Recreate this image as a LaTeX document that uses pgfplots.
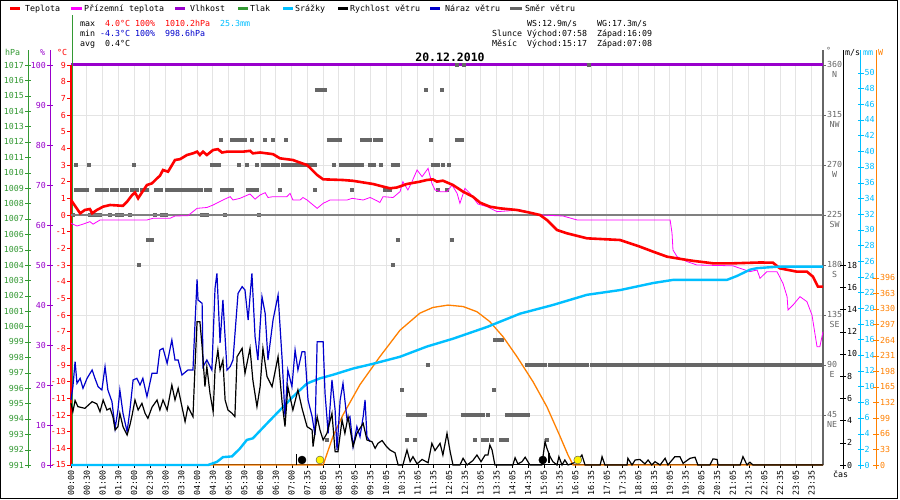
\documentclass[border=0pt]{standalone}
\usepackage{fontspec}
\setmainfont{DejaVu Sans Mono}
\setmonofont{DejaVu Sans Mono}
\usepackage{pgfplots}
\pgfplotsset{compat=1.18}
\definecolor{cTemp}{RGB}{255,0,0}
\definecolor{cFelt}{RGB}{255,0,255}
\definecolor{cHum}{RGB}{153,0,204}
\definecolor{cPres}{RGB}{51,153,51}
\definecolor{cRain}{RGB}{0,191,255}
\definecolor{cGust}{RGB}{0,0,204}
\definecolor{cDir}{RGB}{102,102,102}
\definecolor{cSun}{RGB}{255,128,0}
\definecolor{cGrid}{RGB}{228,228,228}
\newcommand\sm{\fontsize{8.3}{9.5}\selectfont}
\pgfplotsset{
  baseax/.style={scale only axis, width=752pt, height=400pt, at={(71pt,35pt)}, anchor=south west, xmin=0, xmax=23.86},
  dataax/.style={baseax, hide axis, clip=false, unbounded coords=jump},
  sclax/.style={scale only axis, width=1pt, height=400pt, anchor=south west, xmin=0, xmax=1,
     axis x line=none, tick align=center, major tick length=6pt,
     /pgf/number format/assume math mode=true, /pgf/number format/1000 sep={},
     yticklabel style={font=\sm, inner sep=1pt}},
  dirbar/.style={cDir, line width=4pt, line cap=butt},
}
\begin{document}
\begin{tikzpicture}
\useasboundingbox (0pt,0pt) rectangle (900pt,500pt);
\fill[white] (0pt,0pt) rectangle (900pt,500pt);

% ---- grid, time axis and wind direction scale
\begin{axis}[baseax, ymin=0, ymax=360,
  axis x line*=bottom, axis y line*=right,
  xtick={0,0.5,...,23.5},
  xticklabels={00:00,00:30,01:00,01:30,02:00,02:30,03:00,03:30,04:00,04:30,05:00,05:30,06:00,06:30,07:00,07:35,08:05,08:35,09:05,09:35,10:05,10:35,11:05,11:35,12:05,12:35,13:05,13:35,14:05,14:35,15:05,15:35,16:05,16:35,17:05,17:35,18:05,18:35,19:05,19:35,20:05,20:35,21:05,21:35,22:05,22:35,23:05,23:35},
  ytick={45,90,...,360},
  yticklabels={{45\\NE},{90\\E},{135\\SE},{180\\S},{225\\SW},{270\\W},{315\\NW},{360\\N}},
  grid=major, grid style={cGrid, line width=0.9pt},
  tick align=outside, major tick length=3pt,
  x axis line style={black, line width=1pt},
  y axis line style={cDir, line width=1.3pt, shorten >=-15pt},
  xtick style={black}, ytick style={cDir},
  xticklabel style={rotate=90, anchor=east, font=\sm, inner sep=2pt},
  yticklabel style={font=\sm, text=cDir, align=center, anchor=west, yshift=-4.5pt, inner sep=1pt},
]
\end{axis}

% ---- humidity
\begin{axis}[dataax, ymin=0, ymax=100]
\addplot[cHum, line width=3pt] coordinates {(0,100)(23.86,100)};
\end{axis}

% ---- wind direction
\begin{axis}[dataax, ymin=0, ymax=360]
\addplot[dirbar] coordinates {(12.18,360)(12.31,360)(12.31,nan)(12.40,360)(12.53,360)(12.53,nan)(16.37,360)(16.50,360)};
\addplot[dirbar] coordinates {(7.74,337.5)(8.12,337.5)(8.12,nan)(11.20,337.5)(11.33,337.5)(11.33,nan)(11.71,337.5)(11.84,337.5)};
\addplot[dirbar] coordinates {(4.70,292.5)(4.82,292.5)(4.82,nan)(5.05,292.5)(5.58,292.5)(5.58,nan)(5.68,292.5)(5.81,292.5)(5.81,nan)(6.09,292.5)(6.22,292.5)(6.22,nan)(6.35,292.5)(6.47,292.5)(6.47,nan)(6.76,292.5)(6.89,292.5)(6.89,nan)(8.12,292.5)(8.60,292.5)(8.60,nan)(9.17,292.5)(9.55,292.5)(9.55,nan)(9.58,292.5)(9.90,292.5)(9.90,nan)(11.36,292.5)(11.48,292.5)(11.48,nan)(12.18,292.5)(12.47,292.5)};
\addplot[dirbar] coordinates {(0.10,270)(0.22,270)(0.22,nan)(0.51,270)(0.63,270)(0.63,nan)(1.94,270)(2.06,270)(2.06,nan)(4.41,270)(4.76,270)(4.76,nan)(5.27,270)(5.39,270)(5.39,nan)(5.52,270)(5.65,270)(5.65,nan)(5.84,270)(5.97,270)(5.97,nan)(6.03,270)(6.63,270)(6.63,nan)(6.66,270)(7.81,270)(7.81,nan)(8.28,270)(8.41,270)(8.41,nan)(8.50,270)(9.30,270)(9.30,nan)(9.42,270)(9.68,270)(9.68,nan)(9.77,270)(9.90,270)(9.90,nan)(10.15,270)(10.44,270)(10.44,nan)(11.42,270)(11.71,270)(11.71,nan)(11.74,270)(11.87,270)(11.87,nan)(11.93,270)(12.06,270)};
\addplot[dirbar] coordinates {(0.10,247.5)(0.57,247.5)(0.57,nan)(0.76,247.5)(1.21,247.5)(1.21,nan)(1.24,247.5)(1.52,247.5)(1.52,nan)(1.55,247.5)(1.84,247.5)(1.84,nan)(1.87,247.5)(2.16,247.5)(2.16,nan)(2.19,247.5)(2.47,247.5)(2.47,nan)(2.63,247.5)(2.92,247.5)(2.92,nan)(2.98,247.5)(4.19,247.5)(4.19,nan)(4.22,247.5)(4.47,247.5)(4.47,nan)(4.73,247.5)(5.17,247.5)(5.17,nan)(5.55,247.5)(5.97,247.5)(5.97,nan)(6.57,247.5)(6.70,247.5)(6.70,nan)(7.68,247.5)(7.81,247.5)(7.81,nan)(8.85,247.5)(8.98,247.5)(8.98,nan)(9.90,247.5)(10.19,247.5)(10.19,nan)(11.58,247.5)(11.71,247.5)(11.71,nan)(11.87,247.5)(11.99,247.5)};
\addplot[dirbar] coordinates {(0.00,225)(0.13,225)(0.13,nan)(0.54,225)(0.98,225)(0.98,nan)(1.17,225)(1.30,225)(1.30,nan)(1.40,225)(1.68,225)(1.68,nan)(1.81,225)(1.94,225)(1.94,nan)(2.60,225)(2.73,225)(2.73,nan)(2.82,225)(3.08,225)(3.08,nan)(4.09,225)(4.38,225)(4.38,nan)(4.82,225)(4.95,225)(4.95,nan)(5.90,225)(6.03,225)};
\addplot[dirbar] coordinates {(2.38,202.5)(2.63,202.5)(2.63,nan)(10.31,202.5)(10.44,202.5)(10.44,nan)(12.02,202.5)(12.15,202.5)};
\addplot[dirbar] coordinates {(2.09,180)(2.22,180)(2.22,nan)(10.15,180)(10.28,180)};
\addplot[dirbar] coordinates {(13.39,112.5)(13.74,112.5)};
\addplot[dirbar] coordinates {(11.26,90)(11.39,90)(11.39,nan)(14.40,90)(15.10,90)(15.10,nan)(15.13,90)(16.43,90)(16.43,nan)(16.47,90)(23.86,90)};
\addplot[dirbar] coordinates {(10.44,67.5)(10.57,67.5)(10.57,nan)(13.36,67.5)(13.48,67.5)};
\addplot[dirbar] coordinates {(10.63,45)(11.30,45)(11.30,nan)(12.37,45)(13.14,45)(13.14,nan)(13.17,45)(13.29,45)(13.29,nan)(13.77,45)(14.56,45)};
\addplot[dirbar] coordinates {(8.06,22.5)(8.19,22.5)(8.19,nan)(10.60,22.5)(10.72,22.5)(10.72,nan)(10.85,22.5)(10.98,22.5)(10.98,nan)(12.75,22.5)(12.88,22.5)(12.88,nan)(13.01,22.5)(13.26,22.5)(13.26,nan)(13.29,22.5)(13.42,22.5)(13.42,nan)(13.58,22.5)(13.90,22.5)(13.90,nan)(15.04,22.5)(15.17,22.5)};
\end{axis}

% ---- temperature
\draw[cPres] (72pt,35pt) -- (72pt,485pt);
\begin{axis}[baseax, ymin=-15, ymax=9, clip=false,
  axis x line=none, axis y line*=left,
  ytick={-15,...,9}, tick align=outside, major tick length=4pt,
  y axis line style={cTemp, line width=1.5pt},
  ytick style={cTemp, line width=0.8pt},
  yticklabel style={text=cTemp, font=\sm, inner sep=1pt},
  /pgf/number format/assume math mode=true]
\addplot[gray, line width=1.5pt] coordinates {(0,0)(23.86,0)};
\addplot[cFelt, line width=0.8pt] coordinates {(0.00,-0.5)(0.19,-0.66)(0.38,-0.55)(0.60,-0.4)(0.70,-0.55)(0.92,-0.3)(2.41,-0.3)(2.60,-0.2)(3.14,-0.2)(3.30,-0.06)(3.71,-0.04)(4.00,0.4)(4.31,0.45)(4.51,0.6)(4.82,0.9)(5.05,1.1)(5.14,0.9)(5.36,1.0)(5.68,1.26)(5.84,0.95)(6.00,1.2)(6.16,1.34)(6.25,1.05)(6.41,1.1)(6.85,1.1)(6.95,1.3)(7.04,0.9)(7.27,0.9)(7.36,1.05)(7.49,0.9)(7.81,0.4)(8.00,0.7)(8.22,0.9)(8.76,0.9)(8.92,1.0)(9.27,0.9)(9.49,1.05)(9.71,0.85)(9.80,0.75)(9.90,1.1)(10.22,1.05)(10.44,1.4)(10.53,2.0)(10.69,1.5)(10.82,2.0)(10.98,2.7)(11.14,2.3)(11.33,2.8)(11.45,1.9)(11.55,1.5)(11.71,1.4)(11.93,1.4)(12.09,1.8)(12.25,1.3)(12.34,0.7)(12.50,1.6)(12.66,1.3)(12.91,0.66)(13.20,0.5)(13.52,0.2)(14.25,0.3)(14.88,0.0)(15.61,-0.06)(16.06,-0.3)(19.01,-0.3)(19.07,-1.1)(19.10,-2.1)(19.23,-2.5)(19.55,-2.8)(19.86,-3.0)(21.00,-3.05)(21.23,-3.2)(21.54,-3.4)(21.77,-3.3)(21.86,-3.8)(22.08,-3.4)(22.40,-3.4)(22.59,-4.1)(22.72,-4.9)(22.75,-5.7)(22.91,-5.4)(23.13,-4.9)(23.35,-5.2)(23.51,-6.0)(23.67,-7.9)(23.76,-7.9)(23.86,-7.0)};
\addplot[cTemp, line width=2.6pt] coordinates {(0.00,0.9)(0.29,0.1)(0.44,0.3)(0.60,0.36)(0.67,0.1)(0.82,0.3)(1.02,0.5)(1.24,0.6)(1.65,0.55)(1.78,0.8)(1.94,1.2)(2.03,1.35)(2.13,1.0)(2.25,1.35)(2.41,1.8)(2.57,1.9)(2.73,2.2)(2.82,2.35)(2.92,2.7)(3.08,2.6)(3.30,3.3)(3.46,3.35)(3.68,3.6)(3.87,3.7)(4.00,3.8)(4.09,3.6)(4.19,3.8)(4.31,3.6)(4.51,3.9)(4.66,3.95)(4.79,3.75)(4.95,3.8)(5.46,3.8)(5.68,3.85)(5.77,3.7)(6.00,3.75)(6.41,3.65)(6.63,3.4)(7.04,3.3)(7.27,3.14)(7.49,3.0)(7.65,2.7)(7.81,2.4)(8.00,2.14)(8.63,2.1)(8.95,2.05)(9.58,1.86)(10.12,1.6)(10.34,1.65)(10.66,1.86)(11.07,2.0)(11.29,2.1)(11.48,2.14)(11.61,2.0)(11.80,2.06)(12.12,1.8)(12.44,1.4)(12.75,1.1)(12.98,0.74)(13.29,0.5)(13.61,0.4)(14.15,0.3)(14.56,0.14)(14.88,0.0)(15.10,-0.3)(15.42,-0.9)(15.74,-1.1)(16.37,-1.4)(17.42,-1.5)(18.05,-1.9)(18.47,-2.2)(18.91,-2.5)(19.42,-2.66)(19.73,-2.75)(20.37,-2.9)(21.00,-2.9)(21.86,-2.85)(22.27,-2.86)(22.49,-3.2)(23.03,-3.4)(23.35,-3.4)(23.54,-3.7)(23.70,-4.3)(23.86,-4.3)};
\end{axis}

% ---- solar radiation
\begin{axis}[dataax, ymin=0, ymax=845.6]
\addplot[cSun, line width=1.3pt] coordinates {(0,0)(8.00,0)(8.31,60)(8.63,106)(9.17,170)(9.80,229)(10.44,285)(11.07,321)(11.48,333)(11.96,338)(12.44,335)(12.88,324)(13.29,303)(13.71,271)(14.15,229)(14.66,176)(15.10,123)(15.52,60)(15.77,21)(15.93,0)(23.86,0)};
\end{axis}

% ---- precipitation
\begin{axis}[dataax, ymin=0, ymax=51]
\addplot[cRain, line width=2.4pt] coordinates {(0,0)(4.35,0)(4.63,0.4)(4.82,1.0)(5.11,1.1)(5.36,2.1)(5.58,3.2)(5.77,3.4)(6.22,5.3)(6.63,7.0)(7.04,8.7)(7.49,10.4)(7.90,11.05)(8.31,11.5)(8.95,12.3)(9.58,12.9)(10.44,13.8)(11.29,15.1)(12.12,16.1)(13.20,17.6)(14.25,19.3)(15.29,20.4)(16.37,21.7)(17.42,22.3)(18.47,23.2)(19.10,23.6)(20.81,23.6)(21.13,24.1)(21.54,24.9)(21.77,25.1)(22.49,25.3)(23.86,25.3)};
\end{axis}

% ---- wind speed and gusts
\begin{axis}[dataax, ymin=0, ymax=36]
\addplot[cGust, line width=1.2pt] coordinates {(0.00,5.85)(0.06,7.05)(0.13,9.3)(0.19,7.35)(0.29,7.8)(0.38,6.9)(0.51,7.8)(0.67,8.55)(0.76,7.8)(0.86,7.05)(0.98,6.75)(1.08,8.85)(1.17,6.75)(1.30,5.7)(1.40,3.3)(1.49,4.95)(1.55,6.75)(1.65,4.65)(1.78,3.0)(1.87,4.95)(1.97,7.65)(2.09,7.8)(2.19,7.2)(2.28,7.8)(2.41,6.15)(2.57,8.25)(2.73,8.25)(2.82,10.35)(2.92,10.5)(3.05,9.15)(3.20,11.25)(3.30,9.45)(3.40,9.45)(3.52,8.1)(3.71,8.55)(3.87,8.55)(3.93,12.45)(4.00,16.7)(4.03,14.85)(4.16,14.55)(4.19,8.85)(4.31,9.45)(4.47,8.55)(4.57,15.9)(4.63,17.25)(4.73,11.0)(4.82,14.85)(4.95,8.55)(5.05,8.85)(5.14,9.45)(5.30,15.45)(5.43,16.05)(5.52,15.75)(5.62,13.05)(5.74,17.25)(5.84,11.55)(5.93,9.45)(6.06,15.15)(6.16,13.65)(6.25,9.45)(6.41,13.05)(6.57,15.3)(6.70,9.45)(6.79,4.35)(6.88,8.55)(7.01,7.05)(7.11,10.35)(7.20,8.55)(7.33,10.2)(7.42,10.2)(7.52,5.85)(7.65,4.35)(7.74,2.7)(7.81,11.1)(8.00,11.1)(8.06,6.45)(8.16,2.85)(8.28,7.65)(8.38,4.95)(8.44,1.35)(8.54,5.85)(8.63,7.35)(8.76,4.05)(8.85,4.35)(8.95,1.65)(9.07,3.45)(9.17,2.55)(9.27,4.35)(9.33,5.85)(9.39,2.55)(9.49,2.1)};
\addplot[black, line width=1.2pt] coordinates {(0.00,5.55)(0.06,4.8)(0.13,5.8)(0.22,5.25)(0.44,5.1)(0.67,5.7)(0.82,5.5)(0.92,4.8)(1.02,5.85)(1.14,4.95)(1.24,5.1)(1.33,4.35)(1.40,3.15)(1.49,3.45)(1.55,4.65)(1.65,3.45)(1.78,2.7)(1.87,3.6)(1.94,4.5)(2.03,5.85)(2.13,4.95)(2.25,5.55)(2.35,4.65)(2.44,4.2)(2.57,5.2)(2.73,5.85)(2.82,4.95)(2.92,5.85)(3.05,4.95)(3.20,7.2)(3.30,5.85)(3.40,6.9)(3.52,5.25)(3.62,3.9)(3.71,5.25)(3.87,4.35)(3.93,8.55)(4.00,12.9)(4.09,12.9)(4.16,10.65)(4.25,7.05)(4.31,8.85)(4.41,6.45)(4.51,4.8)(4.57,8.55)(4.66,10.35)(4.73,8.55)(4.82,9.45)(4.89,5.85)(4.98,4.95)(5.11,4.65)(5.20,4.35)(5.27,9.75)(5.43,10.5)(5.52,8.25)(5.68,10.5)(5.77,7.65)(5.90,5.25)(6.00,7.05)(6.09,10.5)(6.22,7.95)(6.38,7.05)(6.57,9.75)(6.70,5.55)(6.79,3.45)(6.88,7.05)(7.04,4.95)(7.20,6.75)(7.33,5.1)(7.49,3.45)(7.65,3.15)(7.68,1.65)(7.81,4.35)(7.90,3.15)(8.00,2.25)(8.12,2.85)(8.28,4.65)(8.38,1.2)(8.47,1.2)(8.60,4.05)(8.69,2.85)(8.79,4.35)(8.95,1.65)(9.07,2.85)(9.27,3.75)(9.39,2.25)(9.55,2.1)(9.65,1.5)(9.74,1.95)(9.87,2.2)(10.00,1.7)(10.12,1.35)(10.28,1.1)(10.38,0)(10.53,0)(10.66,1.35)(10.76,0.3)(10.85,0.75)(10.98,0.1)(11.14,0.5)(11.33,0.2)(11.45,1.95)(11.55,1.3)(11.71,1.95)(11.80,0.9)(11.93,2.85)(12.03,1.2)(12.12,0)(12.34,0)(12.44,0.6)(12.57,0)(12.75,0.4)(12.88,0.9)(13.01,0.3)(13.14,0.9)(13.23,0.9)(13.29,1.8)(13.36,1.35)(13.45,0)(14.02,0)(14.09,0.65)(14.18,0.1)(14.31,0.3)(14.41,0.7)(14.56,0)(14.94,0)(15.04,2.1)(15.10,1.5)(15.20,0.75)(15.29,0.3)(15.42,0)(15.48,0.75)(15.58,0)(15.67,0.45)(15.77,0)(16.06,0.3)(16.21,0.9)(16.31,0)(16.79,0)(16.85,0.75)(16.94,0)(17.64,0)(17.67,0.6)(17.80,0)(17.90,0.45)(18.05,0.5)(18.21,0.1)(18.31,0.45)(18.43,0)(18.53,0.3)(18.69,0)(18.85,0.6)(18.94,0)(19.16,0.75)(19.32,0.75)(19.42,0.15)(19.64,0.6)(19.80,0.7)(19.89,0)(20.27,0)(20.37,0.55)(20.50,0.5)(20.53,0)(21.23,0)(21.32,0.75)(21.45,0)(21.54,0.25)(21.64,0)(23.86,0)};
\addplot[black, line width=0.8pt] coordinates {(7.14,0)(7.14,1.0)};
\addplot[black, line width=2.5pt] coordinates {(15.17,0.2)(15.17,1.1)};
\addplot[only marks, mark=*, mark size=4pt, black] coordinates {(7.33,0.45)(14.97,0.45)};
\addplot[only marks, mark=*, mark size=4pt, draw=black!70, fill=yellow] coordinates {(7.90,0.45)(16.08,0.45)};
\end{axis}

% ---- side scales
\begin{axis}[sclax, at={(28pt,35pt)}, ymin=991, ymax=1017, axis y line*=left,
  ytick={991,...,1017}, y axis line style={cPres, shorten >=-15pt, shorten <=-3pt},
  ytick style={cPres}, yticklabel style={text=cPres}]
\end{axis}
\begin{axis}[sclax, at={(50pt,35pt)}, ymin=0, ymax=100, axis y line*=left,
  ytick={0,10,...,100}, y axis line style={cHum, shorten >=-15pt, shorten <=-3pt},
  ytick style={cHum}, yticklabel style={text=cHum}]
\end{axis}
\begin{axis}[sclax, at={(842pt,35pt)}, ymin=0, ymax=36, axis y line*=right,
  ytick={0,2,...,18}, y axis line style={black, shorten >=-15pt, shorten <=-4pt},
  ytick style={black}, yticklabel style={text=black}]
\end{axis}
\begin{axis}[sclax, at={(859.5pt,35pt)}, ymin=0, ymax=51, axis y line*=right,
  ytick={0,2,...,50}, y axis line style={cRain, shorten >=-15pt, shorten <=-4pt},
  ytick style={cRain}, yticklabel style={text=cRain}]
\end{axis}
\begin{axis}[sclax, at={(875pt,35pt)}, ymin=0, ymax=845.6, axis y line*=right,
  ytick={0,33,...,396}, y axis line style={cSun, shorten >=-15pt, shorten <=-4pt},
  ytick style={cSun}, yticklabel style={text=cSun}]
\end{axis}

% ---- unit labels
\begin{scope}[every node/.style={font=\sm, inner sep=0pt, anchor=base west}]
\node[text=cPres] at (5pt,444pt) {hPa};
\node[text=cHum] at (40pt,444pt) {\%};
\node[text=cTemp] at (57pt,444pt) {°C};
\node[text=cDir] at (826pt,446pt) {°};
\node at (845pt,444pt) {m/s};
\node[text=cRain] at (863pt,444pt) {mm};
\node[text=cSun] at (878pt,444pt) {W};
\node at (833pt,22pt) {čas};
% legend
\draw[cTemp, line width=3pt] (10pt,491pt) -- (20pt,491pt);
\node at (25pt,488pt) {Teplota};
\draw[cFelt, line width=3pt] (71pt,491pt) -- (82pt,491pt);
\node at (84pt,488pt) {Přízemní teplota};
\draw[cHum, line width=3pt] (175pt,491pt) -- (185pt,491pt);
\node at (190pt,488pt) {Vlhkost};
\draw[cPres, line width=3pt] (238pt,491pt) -- (248pt,491pt);
\node at (250pt,488pt) {Tlak};
\draw[cRain, line width=3pt] (283pt,491pt) -- (293pt,491pt);
\node at (295pt,488pt) {Srážky};
\draw[black, line width=3pt] (338pt,491pt) -- (348pt,491pt);
\node at (350pt,488pt) {Rychlost větru};
\draw[cGust, line width=3pt] (430pt,491pt) -- (440pt,491pt);
\node at (445pt,488pt) {Náraz větru};
\draw[cDir, line width=3pt] (510pt,491pt) -- (522pt,491pt);
\node at (525pt,488pt) {Směr větru};
% statistics
\node at (80pt,473pt) {max};
\node[text=cTemp] at (105pt,473pt) {4.0°C};
\node[text=cTemp] at (135pt,473pt) {100\%};
\node[text=cTemp] at (165pt,473pt) {1010.2hPa};
\node[text=cRain] at (220pt,473pt) {25.3mm};
\node at (80pt,463pt) {min};
\node[text=cGust] at (100pt,463pt) {-4.3°C};
\node[text=cGust] at (135pt,463pt) {100\%};
\node[text=cGust] at (165pt,463pt) {998.6hPa};
\node at (80pt,453pt) {avg};
\node at (105pt,453pt) {0.4°C};
\node at (527pt,473pt) {WS:12.9m/s};
\node at (597pt,473pt) {WG:17.3m/s};
\node at (492pt,463pt) {Slunce};
\node at (527pt,463pt) {Východ:07:58};
\node at (597pt,463pt) {Západ:16:09};
\node at (492pt,453pt) {Měsíc};
\node at (527pt,453pt) {Východ:15:17};
\node at (597pt,453pt) {Západ:07:08};
\end{scope}
\node[font=\fontsize{11.5}{13}\selectfont\bfseries, inner sep=0pt, anchor=base] at (450pt,438.5pt) {20.12.2010};
\draw[black, line width=1pt] (0.5pt,1.5pt) rectangle (897.5pt,499.5pt);
\end{tikzpicture}
\end{document}
